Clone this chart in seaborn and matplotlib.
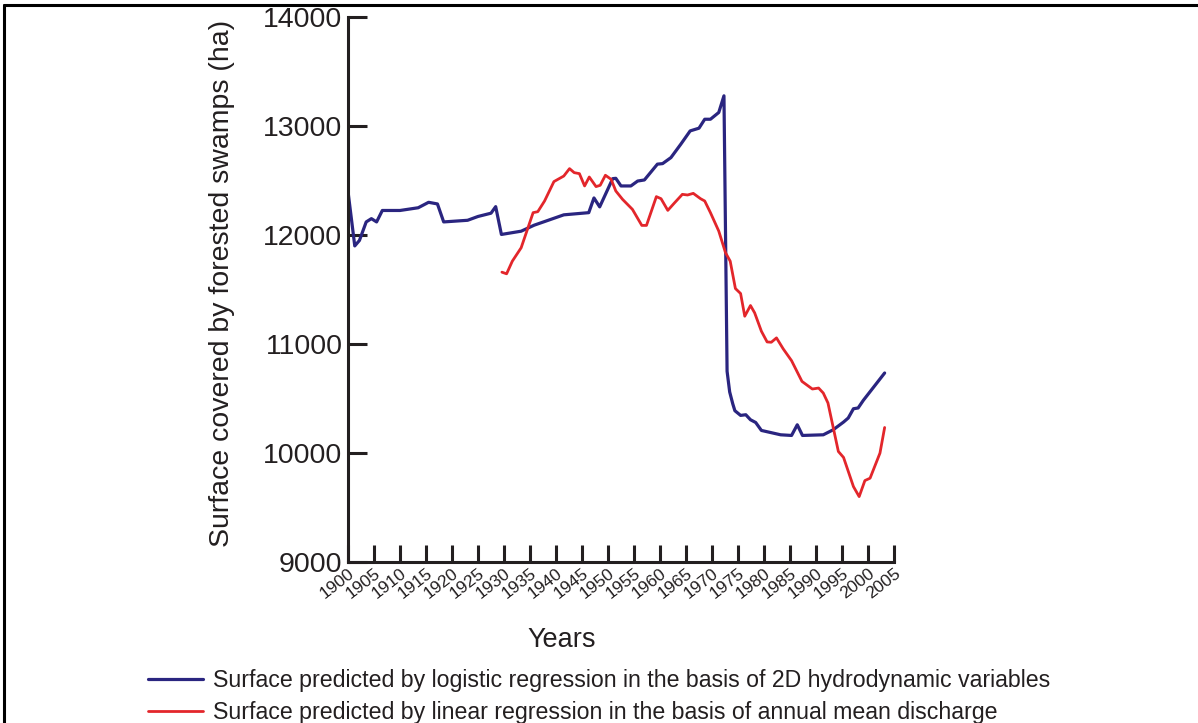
import numpy as np
import pandas as pd
import matplotlib
matplotlib.use("Agg")
import matplotlib.pyplot as plt
from matplotlib.lines import Line2D
import seaborn as sns

# values
logistic_years = [1900, 1901.3, 1902.2, 1903.5, 1904.5, 1905.5, 1906.6, 1910, 1913.5, 1915.5,
                  1917.2, 1918.4, 1923, 1925, 1927.5, 1928.4, 1929.5, 1933.3, 1935.8, 1941.5,
                  1946.3, 1947.3, 1948.4, 1950.9, 1951.5, 1952.5, 1954.4, 1955.7, 1957, 1959.5,
                  1960.5, 1962.1, 1964, 1965.8, 1967.5, 1968.6, 1969.7, 1971.3, 1972.3, 1972.9,
                  1973.4, 1974.0, 1974.4, 1975.5, 1976.5, 1977.4, 1978.4, 1979.5, 1983.2, 1985.3,
                  1986.4, 1987.4, 1991.4, 1993.3, 1995.3, 1996.2, 1997.2, 1998.1, 1999.1, 2003.2]
logistic_surface = [12400, 11900, 11950, 12120, 12150, 12120, 12225, 12225, 12250, 12300,
                    12285, 12120, 12135, 12170, 12200, 12260, 12005, 12035, 12090, 12185,
                    12205, 12340, 12258, 12517, 12520, 12450, 12450, 12495, 12505, 12650,
                    12655, 12710, 12833, 12955, 12980, 13062, 13062, 13124, 13277, 10750,
                    10560, 10450, 10388, 10345, 10351, 10305, 10280, 10207, 10167, 10161,
                    10259, 10161, 10167, 10213, 10284, 10321, 10406, 10413, 10483, 10734]

linear_years = [1929.6, 1930.5, 1931.6, 1933.3, 1935.6, 1936.5, 1937.8, 1939.6, 1941.5, 1942.6,
                1943.5, 1944.5, 1945.5, 1946.4, 1947.7, 1948.5, 1949.5, 1950.6, 1951.5, 1952.8,
                1954.7, 1956.5, 1957.4, 1959.3, 1960.2, 1961.5, 1962.7, 1964.3, 1965.3, 1966.4,
                1967.8, 1968.6, 1969.7, 1971.3, 1972.6, 1973.5, 1974.5, 1975.5, 1976.3, 1977.4,
                1978.2, 1979.5, 1980.6, 1981.4, 1982.4, 1983.7, 1985.3, 1987.3, 1989.3, 1990.5,
                1991.4, 1992.3, 1994.3, 1995.3, 1997.2, 1998.3, 1999.4, 2000.4, 2002.3, 2003.2]
linear_surface = [11659, 11644, 11760, 11883, 12205, 12214, 12312, 12490, 12541, 12609,
                  12572, 12563, 12450, 12532, 12444, 12456, 12548, 12511, 12404, 12327,
                  12235, 12088, 12088, 12352, 12333, 12226, 12290, 12373, 12367, 12382,
                  12333, 12312, 12205, 12036, 11837, 11760, 11509, 11463, 11255, 11353,
                  11286, 11117, 11019, 11016, 11056, 10955, 10847, 10657, 10587, 10596,
                  10550, 10459, 10014, 9959, 9692, 9600, 9747, 9769, 9999, 10234]

x_ticks = list(range(1900, 2006, 5))
y_ticks = [9000, 10000, 11000, 12000, 13000, 14000]

label_logistic = "Surface predicted by logistic regression in the basis of 2D hydrodynamic variables"
label_linear = "Surface predicted by linear regression in the basis of annual mean discharge"

df_log = pd.DataFrame({"year": logistic_years, "surface": logistic_surface})
df_lin = pd.DataFrame({"year": linear_years, "surface": linear_surface})

sns.set_style("ticks")
plt.rcParams["font.family"] = ["Liberation Sans", "DejaVu Sans"]
ink = "#231f20"
plt.rcParams["text.color"] = ink

fig = plt.figure(figsize=(11.98, 7.23), dpi=100)
ax = fig.add_axes([348 / 1198, 1 - 562 / 723, (894 - 348) / 1198, (562 - 17) / 723])

sns.lineplot(data=df_log, x="year", y="surface", ax=ax, color="#2a2580", lw=2.3,
             estimator=None, label=label_logistic)
sns.lineplot(data=df_lin, x="year", y="surface", ax=ax, color="#e3262b", lw=2.0,
             estimator=None, label=label_linear)

ax.set_xlim(1900, 2005)
ax.set_ylim(9000, 14000)
ax.set_xticks(x_ticks)
ax.set_yticks(y_ticks)
ax.set_yticklabels([str(v) for v in y_ticks], fontsize=20.5, color=ink)
ax.set_xticklabels([str(v) for v in x_ticks], fontsize=12.5, color=ink)

for side in ["top", "right"]:
    ax.spines[side].set_visible(False)
for side in ["left", "bottom"]:
    ax.spines[side].set_linewidth(2.2)
    ax.spines[side].set_color(ink)

ax.tick_params(axis="y", direction="in", length=13.5, width=2.2, color=ink, pad=4)
ax.tick_params(axis="x", direction="in", length=12, width=2.2, color=ink, pad=2.5)

# rotated year labels like the original
for lbl in ax.get_xticklabels():
    lbl.set_rotation(38)
    lbl.set_ha("right")
    lbl.set_rotation_mode("anchor")

ax.set_ylabel("Surface covered by forested swamps (ha)", fontsize=20.5, color=ink)
ax.yaxis.set_label_coords(-0.207, 0.512)
ax.set_xlabel("Years", fontsize=19.5, color=ink)
ax.xaxis.set_label_coords(0.392, -0.12)

ax.legend(loc="upper left", bbox_to_anchor=(148 / 1198, 1 - 669 / 723),
          bbox_transform=fig.transFigure, frameon=False, fontsize=16.7,
          handlelength=2.36, handletextpad=0.43, labelspacing=0.38,
          borderpad=0, borderaxespad=0)

# partial frame around the figure (top and left edges)
fig.add_artist(Line2D([4 / 1198, 1], [1 - 5 / 723, 1 - 5 / 723], color="black", lw=2.2,
                      transform=fig.transFigure))
fig.add_artist(Line2D([4 / 1198, 4 / 1198], [0, 1 - 5 / 723], color="black", lw=2.2,
                      transform=fig.transFigure))

fig.savefig("out.png", dpi=100, facecolor="white")
